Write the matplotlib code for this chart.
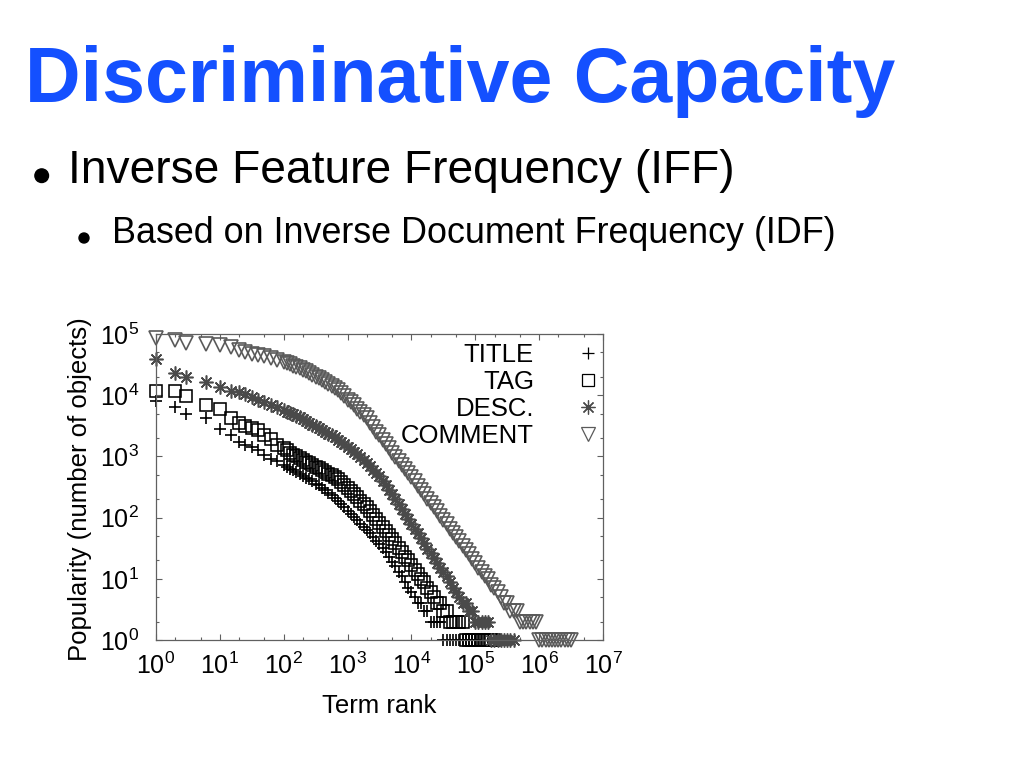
import matplotlib
matplotlib.use('Agg')
import matplotlib.pyplot as plt
from matplotlib.patches import Circle
from matplotlib.ticker import LogLocator, NullFormatter

plt.rcParams['font.family'] = ['Liberation Sans', 'DejaVu Sans']
plt.rcParams['mathtext.fontset'] = 'custom'
plt.rcParams['mathtext.rm'] = 'Liberation Sans'
plt.rcParams['mathtext.it'] = 'Liberation Sans:italic'
plt.rcParams['mathtext.bf'] = 'Liberation Sans:bold'

# ---------------- data ----------------
RANK = [1, 2, 3, 6, 10, 15, 20, 25, 32, 40, 50, 63, 79,
        100, 112, 126, 141, 158, 178, 200, 224, 251, 282, 316, 355, 398,
        447, 501, 562, 631, 708, 794, 891, 1000, 1122, 1259, 1413, 1585,
        1778, 1995, 2239, 2512, 2818, 3162, 3548, 3981, 4467, 5012, 5623,
        6310, 7079, 7943, 8913, 10000, 11220, 12589, 14125, 15849, 17783,
        19953, 22387, 25119, 28184, 31623, 35481, 39811, 44668, 50119,
        56234, 63096, 70795, 79433, 89125, 100000, 112202, 125893, 141254,
        158489, 177828, 199526, 223872, 251189, 281838, 316228, 354813,
        398107, 446684, 501187, 562341, 630957, 707946, 794328, 891251,
        1000000, 1122018, 1258925, 1412538, 1584893, 1778279, 1995262,
        2238721, 2511886, 2818383, 3162278]

COMMENT = [85000, 79000, 72000, 69000, 65000, 62000, 55000, 51000, 48000,
           46000, 43000, 40000, 37000,
           35500, 34000, 32000, 30500, 29000, 27500, 26000, 24500, 23000,
           21500, 20000, 18900, 17800, 16600, 15500, 14300, 13200, 12000,
           10700, 9600, 8500, 7600, 6800, 6000, 5400, 4800, 4200, 3550,
           3000, 2550, 2200, 1880, 1600, 1350, 1150, 980, 830, 720, 620,
           530, 460, 390, 330, 280, 240, 205, 175, 148, 126, 107, 91, 78,
           66, 56, 48, 41, 35, 30, 25, 21, 18, 15, 13, 11, 10, 8, 7, 6, 5,
           4, 4, 3, 3, 3, 2, 2, 2, 2, 2, 2,
           1, 1, 1, 1, 1, 1, 1, 1, 1, 1, 1]

DESC = [39000, 23400, 19500, 16600, 13500, 11700, 11200, 10500, 9500,
        8500, 7600, 6900, 6300,
        5750, 5400, 5100, 4850, 4600, 4350, 4100, 3800, 3550, 3300, 3100,
        2900, 2700, 2520, 2350, 2200, 2050, 1870, 1700, 1570, 1450, 1320,
        1200, 1080, 980, 870, 780, 690, 600, 530, 470, 400, 340, 285, 240,
        200, 166, 138, 115, 96, 80, 66, 55, 46, 38, 31, 26, 22, 18, 15,
        13, 11, 9, 7, 6, 5, 4, 4, 3, 3, 2, 2, 2, 2, 2,
        1, 1, 1, 1, 1, 1, 1, 1]

TAG = [11700, 11500, 9800, 6900, 5900, 4300, 3550, 3150, 2950, 2700,
       2250, 1900, 1550,
       1350, 1250, 1150, 1070, 1000, 930, 870, 820, 780, 730, 680, 635,
       590, 555, 520, 490, 460, 420, 380, 340, 300, 270, 240, 215, 190,
       168, 148, 129, 112, 96, 83, 71, 60, 52, 44, 38, 32, 27, 23, 20, 17,
       14, 12, 10, 9, 7, 6, 5, 4, 4, 3, 3, 2, 2, 2, 2, 2,
       1, 1, 1, 1, 1, 1, 1, 1, 1, 1]

TITLE = [8100, 6300, 4900, 4200, 2800, 2250, 1750, 1550, 1400, 1250, 1050,
         910, 830,
         720, 675, 630, 590, 550, 515, 480, 450, 420, 390, 360, 335, 310,
         282, 255, 232, 210, 187, 166, 147, 130, 115, 102, 90, 80, 70, 62,
         55, 48, 42, 37, 32, 27, 23, 19, 16, 13, 11, 9, 7, 6, 5, 4, 4, 3,
         3, 2, 2, 2, 2,
         1, 1, 1, 1, 1, 1, 1, 1, 1, 1, 1]

SERIES_NAMES = ['TITLE', 'TAG', 'DESC.', 'COMMENT']
X_EXP = list(range(0, 8))
Y_EXP = list(range(0, 6))

SLIDE_TITLE = 'Discriminative Capacity'
BULLET1 = 'Inverse Feature Frequency (IFF)'
BULLET2 = 'Based on Inverse Document Frequency (IDF)'

# ---------------- figure ----------------
W, H = 1023, 767
fig = plt.figure(figsize=(W / 100, H / 100), dpi=100)
fig.patch.set_facecolor('white')

def fx(px):
    return px / W

def fy(py):
    return 1 - py / H

fig.text(fx(25), fy(102), SLIDE_TITLE, fontsize=55.5, fontweight='bold',
         color='#1450ff', ha='left', va='baseline')
fig.text(fx(68), fy(183), BULLET1, fontsize=33.2, color='black',
         ha='left', va='baseline')
fig.text(fx(112), fy(243), BULLET2, fontsize=25.8, color='black',
         ha='left', va='baseline')
fig.add_artist(Circle((41.7 / 100, (H - 175.7) / 100), 0.068,
                      transform=fig.dpi_scale_trans, color='black'))
fig.add_artist(Circle((84 / 100, (H - 238) / 100), 0.05,
                      transform=fig.dpi_scale_trans, color='black'))

# axes
L, R, T, B = 156, 603, 334, 640
ax = fig.add_axes([fx(L), fy(B), (R - L) / W, (B - T) / H])
ax.set_xscale('log')
ax.set_yscale('log')
ax.set_xlim(1, 1e7)
ax.set_ylim(1, 1e5)

styles = {
    'TITLE': dict(marker='+', ms=8, mec='black', mew=1.2),
    'TAG': dict(marker='s', ms=9, mec='black', mfc='none', mew=1.15),
    'DESC.': dict(marker=(8, 2, 0), ms=10, mec='#4a4a4a', mew=1.15),
    'COMMENT': dict(marker='v', ms=10, mec='#5a5a5a', mfc='none', mew=1.2),
}
data = {'TITLE': TITLE, 'TAG': TAG, 'DESC.': DESC, 'COMMENT': COMMENT}
for name in SERIES_NAMES:
    vals = data[name]
    ax.plot(RANK[:len(vals)], vals, ls='none', clip_on=False,
            **styles[name])

spine_col = '#606060'
for s in ax.spines.values():
    s.set_color(spine_col)
    s.set_linewidth(0.9)

ax.set_xticks([10.0 ** k for k in X_EXP])
ax.set_xticklabels([r'$\mathregular{10^{%d}}$' % k for k in X_EXP])
ax.set_yticks([10.0 ** k for k in Y_EXP])
ax.set_yticklabels([r'$\mathregular{10^{%d}}$' % k for k in Y_EXP])
ax.xaxis.set_minor_locator(LogLocator(base=10, subs=(2, 5), numticks=20))
ax.yaxis.set_minor_locator(LogLocator(base=10, subs=(2, 5), numticks=20))
ax.xaxis.set_minor_formatter(NullFormatter())
ax.yaxis.set_minor_formatter(NullFormatter())
ax.tick_params(which='both', direction='in', top=True, right=True,
               color=spine_col, width=0.8)
ax.tick_params(which='major', length=4.5, labelsize=18)
ax.tick_params(which='minor', length=2.5)
ax.tick_params(axis='x', which='major', pad=9)
ax.tick_params(axis='y', which='major', pad=12)

ax.set_xlabel('Term rank', fontsize=18.5)
ax.xaxis.label.set_va('baseline')
ax.xaxis.set_label_coords(0.5, (B - 713) / (B - T))
ax.set_ylabel('Popularity (number of objects)', fontsize=18.5)
ax.yaxis.label.set_va('baseline')
ax.yaxis.set_label_coords((87 - L) / (R - L), (B - 489) / (B - T))

# legend (gnuplot style: right-aligned text, symbol on the right)
leg_rows = [362, 389, 416, 443]
for name, yb in zip(SERIES_NAMES, leg_rows):
    st = dict(styles[name])
    st['mew'] = 0.9
    ax.text((534 - L) / (R - L), (B - yb) / (B - T), name, fontsize=18.5,
            ha='right', va='baseline', transform=ax.transAxes)
    ax.plot([(588 - L) / (R - L)], [(B - (yb - 9)) / (B - T)],
            transform=ax.transAxes, ls='none', clip_on=False, **st)

fig.savefig('out.png', dpi=100, facecolor='white')
